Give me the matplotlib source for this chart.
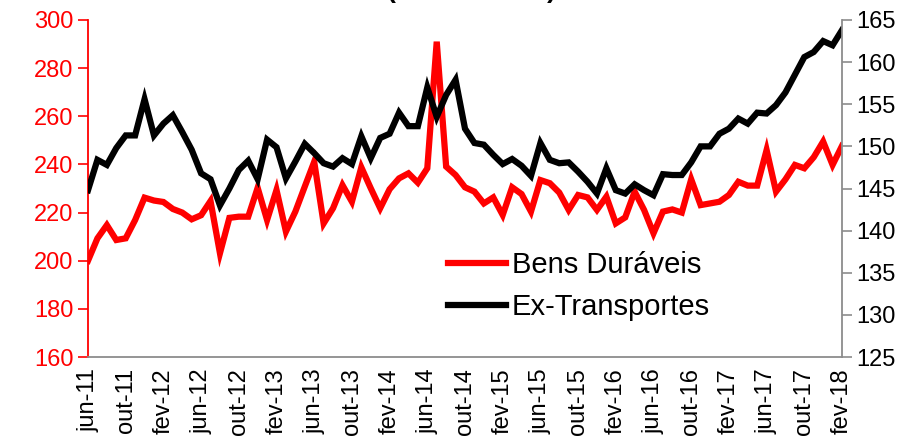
import matplotlib
matplotlib.use("Agg")
import matplotlib.pyplot as plt

plt.rcParams["font.family"] = ["Liberation Sans", "DejaVu Sans"]

# monthly, jun-11 .. fev-18
START_YEAR, START_MONTH = 2011, 6
MESES = ["jan", "fev", "mar", "abr", "mai", "jun",
         "jul", "ago", "set", "out", "nov", "dez"]

bens_duraveis = [
    200.0, 209.3, 214.8, 208.6, 209.3, 216.9, 226.2, 225.0, 224.4, 221.5,
    220.0, 217.2, 218.9, 224.8, 203.1, 217.8, 218.3, 218.3, 230.3, 216.9,
    229.4, 212.1, 220.4, 230.8, 241.1, 215.5, 221.8, 231.4, 224.5, 238.8,
    230.1, 221.8, 229.7, 234.2, 236.3, 232.4, 238.4, 291.0, 239.1, 235.6,
    230.5, 228.7, 223.8, 226.3, 219.0, 230.5, 227.7, 220.4, 233.5, 232.2,
    228.3, 221.1, 227.3, 226.3, 221.1, 226.6, 215.5, 218.0, 228.7, 221.1,
    211.4, 220.4, 221.3, 220.0, 233.8, 223.1, 223.8, 224.5, 227.3, 232.8,
    231.2, 231.2, 246.0, 228.7, 233.8, 239.8, 238.4, 243.0, 249.5, 239.8,
    247.7,
]
ex_transportes = [
    144.8, 148.4, 147.8, 149.8, 151.3, 151.3, 155.6, 151.3, 152.7, 153.7,
    151.7, 149.6, 146.8, 146.1, 143.0, 145.0, 147.2, 148.3, 146.1, 150.8,
    149.9, 146.2, 148.2, 150.3, 149.2, 148.0, 147.6, 148.6, 147.9, 151.2,
    148.6, 151.0, 151.5, 154.0, 152.4, 152.4, 157.0, 153.5, 156.1, 157.9,
    152.1, 150.4, 150.2, 149.0, 147.9, 148.5, 147.7, 146.5, 150.4, 148.4,
    148.0, 148.1, 147.0, 145.8, 144.4, 147.4, 144.8, 144.4, 145.5, 144.8,
    144.2, 146.7, 146.6, 146.6, 148.1, 150.0, 150.0, 151.5, 152.1, 153.3,
    152.7, 154.0, 153.9, 154.9, 156.4, 158.5, 160.6, 161.2, 162.5, 162.0,
    163.8,
]

n = len(bens_duraveis)
labels = []
for i in range(n):
    m = START_MONTH - 1 + i
    labels.append(f"{MESES[m % 12]}-{(START_YEAR + m // 12) % 100:02d}")
x = list(range(n))

RED, GREY = "#ff0000", "#8c8c8c"

fig = plt.figure(figsize=(9.22, 4.46), dpi=100)
ax = fig.add_axes([88 / 922, 1 - 357 / 446, 754 / 922, 337 / 446])
ax2 = ax.twinx()

l1, = ax.plot(x, bens_duraveis, color=RED, lw=4.5, solid_joinstyle="miter",
              label="Bens Duráveis")
l2, = ax2.plot(x, ex_transportes, color="black", lw=4.5, solid_joinstyle="miter",
               label="Ex-Transportes")

ax.set_xlim(0, n - 1)
ax.set_ylim(160, 300)
ax.set_yticks(range(160, 301, 20))
ax2.set_ylim(125, 165)
ax2.set_yticks(range(125, 166, 5))

ax.set_xticks(x[::4])
ax.set_xticklabels(labels[::4], rotation=90, fontsize=17)
ax.tick_params(axis="x", length=0, pad=8)
ax.tick_params(axis="y", colors=RED, labelsize=17, length=7, width=1.2)
ax2.tick_params(axis="y", colors=GREY, labelcolor="black", labelsize=17,
                length=7, width=1.2)

ax.spines["top"].set_visible(False)
ax2.spines["top"].set_visible(False)
ax.spines["left"].set_color(RED)
ax.spines["left"].set_linewidth(1.3)
ax.spines["bottom"].set_color(GREY)
ax.spines["bottom"].set_linewidth(1.3)
ax2.spines["left"].set_visible(False)
ax2.spines["bottom"].set_visible(False)
ax2.spines["right"].set_color(GREY)
ax2.spines["right"].set_linewidth(1.3)
ax.spines["right"].set_visible(False)

ax2.legend([l1, l2], ["Bens Duráveis", "Ex-Transportes"], frameon=False,
           loc="upper left", bbox_to_anchor=(0.477, 0.315), fontsize=21,
           handlelength=2.0, handletextpad=0.2, labelspacing=0.5,
           borderpad=0, borderaxespad=0)

# title sits mostly above the crop; only the bottom of the brackets shows
fig.text(0.511, 1.004, "(US$ bilhões)", ha="center", va="baseline",
         fontsize=19, fontweight="bold")

fig.savefig("out.png", dpi=100, facecolor="white")
